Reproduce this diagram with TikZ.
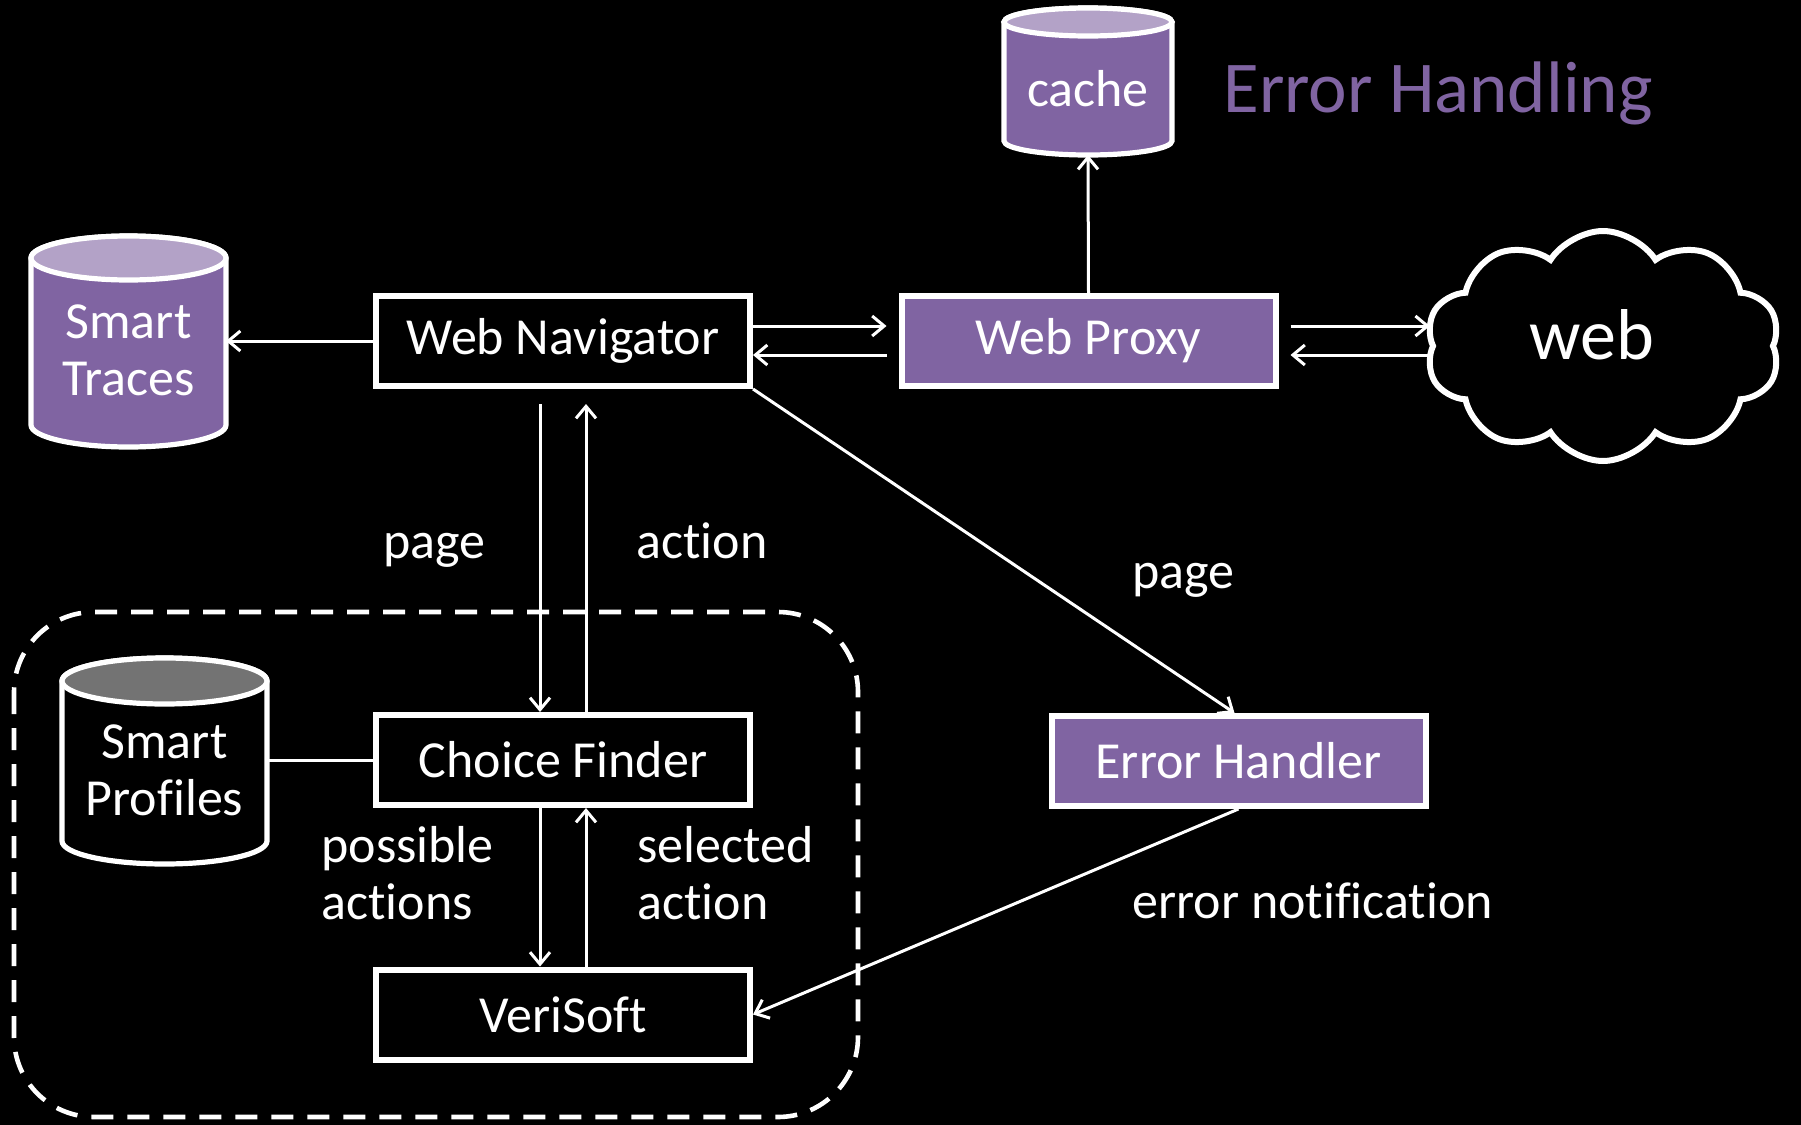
\documentclass[tikz,border=0pt]{standalone}
\usepackage{fontspec}
\setmainfont{Carlito}[Ligatures=NoCommon]
\usetikzlibrary{arrows.meta,calc,shapes.symbols}

\definecolor{boxpurple}{HTML}{8064A2}
\definecolor{cappurple}{HTML}{B3A2C7}
\definecolor{capgray}{HTML}{737373}

\tikzset{
  px/.style={x=0.5pt,y=-0.5pt},
  labelfont/.style={font=\fontsize{26}{28.5}\selectfont},
  stepbox/.style={draw=white, line width=3pt, fill=black, text=white,
    minimum width=187pt, minimum height=45pt, inner sep=0pt, labelfont},
  purplebox/.style={stepbox, fill=boxpurple},
  cylline/.style={draw=white, line width=2.6pt},
  cylframe/.style={inner sep=0pt, outer sep=0pt},
  cyltext/.style={text=white, align=center, labelfont},
  edgelabel/.style={text=white, labelfont, inner sep=0pt, align=left},
  arr/.style={draw=white, line width=1.5pt,
    -{Straight Barb[length=6pt,width=10pt,line width=1.5pt]}},
  plainline/.style={draw=white, line width=1.5pt},
  groupframe/.style={draw=white, line width=2.3pt, dash pattern=on 11pt off 7pt,
    rounded corners=40pt},
}

% database cylinder drawn round the frame node #1
\newcommand\dbcylinder[4]{%
  \draw[cylline, fill=#2] let \p1=(#1.north west), \p2=(#1.south east),
    \n1={0.5*(\x2-\x1)} in
    (\x1,\y1-#4) -- (\x1,\y2+#4)
    arc[start angle=180, end angle=360, x radius=\n1, y radius=#4]
    -- (\x2,\y1-#4)
    arc[start angle=0, end angle=180, x radius=\n1, y radius=#4] -- cycle;
  \draw[cylline, fill=#3] let \p1=(#1.north west), \p2=(#1.south east),
    \n1={0.5*(\x2-\x1)} in
    ({0.5*(\x1+\x2)},\y1-#4) ellipse[x radius=\n1, y radius=#4];
}

\begin{document}
\begin{tikzpicture}[px]
  % canvas
  \fill[black] (0,0) rectangle (1801,1125);
  \useasboundingbox (0,0) rectangle (1801,1125);

  % boundary of the exploration engine
  \draw[groupframe] (14,612) rectangle (858,1117);

  % database frames and cylinders
  \node[cylframe, minimum width=97.5pt, minimum height=105.5pt] (traces) at (128.5,341.5) {};
  \dbcylinder{traces}{boxpurple}{cappurple}{11pt}
  \node[cyltext] (tracestext) at (128.5,350) {Smart\\Traces};

  \node[cylframe, minimum width=84pt, minimum height=73.5pt] (cache) at (1088,81.5) {};
  \dbcylinder{cache}{boxpurple}{cappurple}{7pt}
  \node[cyltext, anchor=base] (cachetext) at (1088,106) {cache};

  \node[cylframe, minimum width=102.5pt, minimum height=103pt] (profiles) at (164.5,761) {};
  \dbcylinder{profiles}{black}{capgray}{11.5pt}
  \node[cyltext] (profilestext) at (164.5,770) {Smart\\Profiles};

  % components
  \node[stepbox] (wn) at (563,341) {Web Navigator};
  \node[purplebox] (proxy) at (1088.5,341) {Web Proxy};
  \node[stepbox] (cf) at (563,760) {Choice Finder};
  \node[stepbox] (vs) at (563,1014.5) {VeriSoft};
  \node[purplebox] (eh) at (1238.5,761) {Error Handler};

  % the web
  \node[cloud, cloud puffs=10, cloud puff arc=115, draw=white, line width=3pt,
        fill=black, minimum width=177pt, minimum height=115pt] (web) at (1603,346) {};
  \node[text=white, anchor=base, inner sep=0pt,
        font=\fontsize{36}{40}\selectfont] (webtext) at (1592,359) {web};

  % title
  \node[text=boxpurple, anchor=base west, inner sep=0pt,
        font=\fontsize{36.5}{40}\selectfont] (title) at (1223,112) {Error Handling};

  % connectors
  \draw[arr] (wn.west) -- (wn.west -| traces.east);
  \draw[arr] ([yshift=7.5pt]wn.east) -- ([yshift=7.5pt,xshift=-6pt]proxy.west);
  \draw[arr] ([yshift=-7pt,xshift=-6pt]proxy.west) -- ([yshift=-7pt]wn.east);
  \draw[arr] ([yshift=7.5pt,xshift=6pt]proxy.east) -- ([yshift=7.5pt]proxy.east -| web.west);
  \draw[arr] ([yshift=-7pt]proxy.east -| web.west) -- ([yshift=-7pt,xshift=6pt]proxy.east);
  \draw[arr] (proxy.north) -- (cache.south);

  \draw[arr] ([xshift=-11.5pt,yshift=-7.5pt]wn.south) -- ([xshift=-11.5pt]cf.north);
  \draw[arr] ([xshift=11.5pt]cf.north) -- ([xshift=11.5pt,yshift=-7.5pt]wn.south);
  \draw[arr] ([xshift=-11.5pt]cf.south) -- ([xshift=-11.5pt]vs.north);
  \draw[arr] ([xshift=11.5pt]vs.north) -- ([xshift=11.5pt]cf.south);
  \draw[plainline] (profiles.east |- cf.west) -- (cf.west);

  \draw[arr] (wn.south east) -- ([xshift=-2pt]eh.north);
  \draw[arr] (eh.south) -- (vs.east);

  % connector labels
  \node[edgelabel, anchor=base west] (lpage) at (383,558) {page};
  \node[edgelabel, anchor=base west] (laction) at (636,558) {action};
  \node[edgelabel, anchor=base west] (rpage) at (1132,588) {page};
  \node[edgelabel, anchor=west] (lpossible) at (321,873) {possible\\actions};
  \node[edgelabel, anchor=west] (lselected) at (637,873) {selected\\action};
  \node[edgelabel, anchor=base west] (lerror) at (1132,918) {error notification};
\end{tikzpicture}
\end{document}
